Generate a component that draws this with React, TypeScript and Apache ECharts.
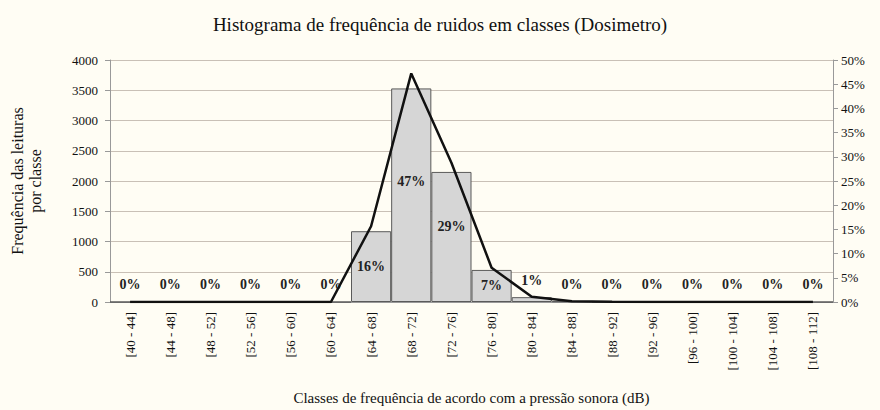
import React, { useEffect, useRef } from "react";
import * as echarts from "echarts";

const categories = [
  "[40 - 44]", "[44 - 48]", "[48 - 52]", "[52 - 56]", "[56 - 60]", "[60 - 64]",
  "[64 - 68]", "[68 - 72]", "[72 - 76]", "[76 - 80]", "[80 - 84]", "[84 - 88]",
  "[88 - 92]", "[92 - 96]", "[96 - 100]", "[100 - 104]", "[104 - 108]", "[108 - 112]",
];
const frequencies = [0, 0, 0, 0, 0, 0, 1170, 3530, 2150, 530, 80, 12, 2, 0, 0, 0, 0, 0];
const leftTicks = { min: 0, max: 4000, interval: 500 };
const rightTicks = { min: 0, max: 50, interval: 5 };

const FONT = "Liberation Serif";

export default function App() {
  const ref = useRef<HTMLDivElement>(null);
  useEffect(() => {
    if (!ref.current) return;
    const chart = echarts.init(ref.current, null, { renderer: "svg" });
    const total = frequencies.reduce((a, b) => a + b, 0);
    const percents = frequencies.map((v) => (v / total) * 100);
    chart.setOption({
      animation: false,
      backgroundColor: "#fffdf4",
      textStyle: { fontFamily: FONT },
      title: {
        text: "Histograma de frequência de ruidos em classes (Dosimetro)",
        left: "center",
        top: 10,
        textStyle: { fontFamily: FONT, fontSize: 19, fontWeight: "normal", color: "#111" },
      },
      grid: { left: 100, right: 47, top: 60, bottom: 108 },
      xAxis: {
        type: "category",
        data: categories,
        boundaryGap: true,
        name: "Classes de frequência de acordo com a pressão sonora (dB)",
        nameLocation: "middle",
        nameGap: 88,
        nameTextStyle: { fontFamily: FONT, fontSize: 15, color: "#111" },
        axisLine: { lineStyle: { color: "#999", width: 1 } },
        axisTick: { show: false },
        axisLabel: {
          rotate: 90,
          interval: 0,
          fontFamily: FONT,
          fontSize: 13,
          color: "#111",
          margin: 10,
        },
      },
      yAxis: [
        {
          type: "value",
          min: leftTicks.min,
          max: leftTicks.max,
          interval: leftTicks.interval,
          name: "Frequência das leituras\npor classe",
          nameLocation: "middle",
          nameGap: 66,
          nameRotate: 90,
          nameTextStyle: { fontFamily: FONT, fontSize: 16, color: "#111", lineHeight: 18 },
          axisLine: { show: true, lineStyle: { color: "#999" } },
          axisTick: { show: true, length: 5, lineStyle: { color: "#999" } },
          axisLabel: {
            fontFamily: FONT,
            fontSize: 13,
            color: "#111",
            margin: 12,
            formatter: (v: number) => `${v}`,
          },
          splitLine: { show: true, lineStyle: { color: "#c9c0b6", width: 1 } },
        },
        {
          type: "value",
          min: rightTicks.min,
          max: rightTicks.max,
          interval: rightTicks.interval,
          position: "right",
          axisLine: { show: true, lineStyle: { color: "#999" } },
          axisTick: { show: true, length: 5, lineStyle: { color: "#999" } },
          axisLabel: {
            fontFamily: FONT,
            fontSize: 13,
            color: "#111",
            margin: 8,
            formatter: (v: number) => `${v}%`,
          },
          splitLine: { show: false },
        },
      ],
      series: [
        {
          type: "bar",
          yAxisIndex: 0,
          barCategoryGap: "0%",
          itemStyle: { color: "#d6d6d6", borderColor: "#5a5a5a", borderWidth: 1 },
          data: frequencies.map((v, i) => ({
            value: v,
            label: {
              show: true,
              position: v >= 500 ? "inside" : "top",
              distance: 10,
              offset: v > 3000 ? [0, -14] : v > 2000 ? [0, -10] : [0, 0],
              formatter: () => `${Math.round(percents[i])}%`,
              fontFamily: FONT,
              fontSize: 14,
              fontWeight: "bold",
              color: "#222",
            },
          })),
        },
        {
          type: "line",
          yAxisIndex: 1,
          data: percents,
          symbol: "none",
          lineStyle: { color: "#111", width: 2.5 },
          z: 5,
        },
      ],
    });
    return () => chart.dispose();
  }, []);
  return (
    <div
      ref={ref}
      style={{ position: "fixed", left: 0, top: 0, width: 880, height: 410 }}
    />
  );
}
